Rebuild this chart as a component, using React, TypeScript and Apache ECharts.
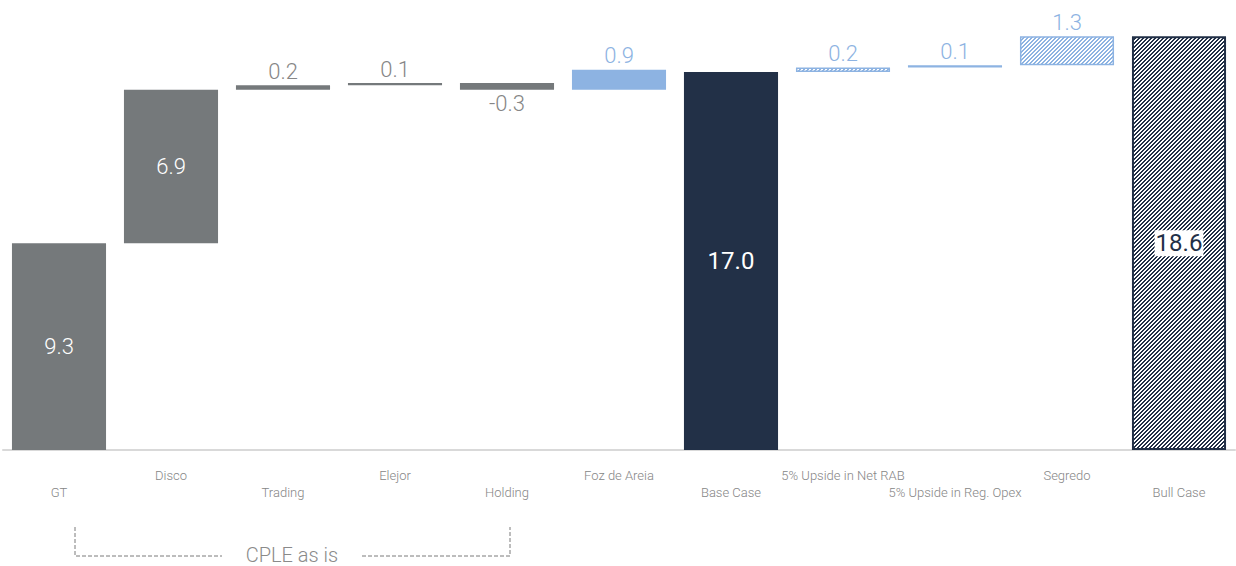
import React, { useEffect, useRef } from "react";
import * as echarts from "echarts";

// Waterfall: CPLE sum-of-the-parts bridge from components to Base Case and Bull Case
const categories = [
  "GT",
  "Disco",
  "Trading",
  "Elejor",
  "Holding",
  "Foz de Areia",
  "Base Case",
  "5% Upside in Net RAB",
  "5% Upside in Reg. Opex",
  "Segredo",
  "Bull Case",
];
const values = [9.3, 6.9, 0.2, 0.1, -0.3, 0.9, 17.0, 0.2, 0.1, 1.3, 18.6];
// "total" bars start at zero; "step" bars float on the running sum
const kinds = ["total", "step", "step", "step", "step", "step", "total", "step", "step", "step", "total"];
// fill style per bar
const styles = ["gray", "gray", "gray", "gray", "gray", "blue", "navy", "blueHatch", "blue", "blueHatch", "navyHatch"];

const GRAY = "#75797b";
const BLUE = "#8db3e2";
const NAVY = "#223047";
const LABEL_GRAY = "#868686";

// Pixel-crisp diagonal stripes ("/") as a repeating 4x4 tile
function stripePattern(fg: string, bg: string) {
  const size = 4;
  const c = document.createElement("canvas");
  c.width = size;
  c.height = size;
  const ctx = c.getContext("2d")!;
  ctx.fillStyle = bg;
  ctx.fillRect(0, 0, size, size);
  ctx.fillStyle = fg;
  for (let y = 0; y < size; y++) {
    for (let x = 0; x < size; x++) {
      if ((x + y) % size < 2) ctx.fillRect(x, y, 1, 1);
    }
  }
  return { image: c, repeat: "repeat", imageWidth: size, imageHeight: size };
}

export default function App() {
  const ref = useRef<HTMLDivElement>(null);

  useEffect(() => {
    if (!ref.current) return;
    const chart = echarts.init(ref.current, null, { renderer: "svg" });

    const bases: number[] = [];
    const heights: number[] = [];
    let running = 0;
    values.forEach((v, i) => {
      if (kinds[i] === "total") {
        bases.push(0);
        heights.push(v);
        running = v;
      } else if (v >= 0) {
        bases.push(running);
        heights.push(v);
        running += v;
      } else {
        bases.push(running + v);
        heights.push(-v);
        running += v;
      }
    });

    const barData = heights.map((h, i) => {
      const st = styles[i];
      const v = values[i];
      let itemStyle: any = { color: GRAY };
      let labelColor = LABEL_GRAY;
      if (st === "blue") {
        itemStyle = { color: BLUE };
        labelColor = BLUE;
      } else if (st === "navy") {
        itemStyle = { color: NAVY };
      } else if (st === "blueHatch") {
        itemStyle = {
          color: stripePattern(BLUE, "#ffffff"),
          borderColor: BLUE,
          borderWidth: 1.5,
        };
        labelColor = BLUE;
      } else if (st === "navyHatch") {
        itemStyle = {
          color: stripePattern(NAVY, "#ffffff"),
          borderColor: NAVY,
          borderWidth: 2,
        };
      }
      const text = v.toFixed(1);
      let label: any;
      if (kinds[i] === "total" || i === 1) {
        label = {
          show: true,
          position: "inside",
          formatter: text,
          color: "#ffffff",
          fontSize: i === 6 || i === 10 ? 24 : 22,
          fontFamily: "Roboto",
          fontWeight: st === "gray" ? 300 : 400,
        };
        if (st === "navyHatch") {
          label.color = NAVY;
          label.backgroundColor = "#ffffff";
          label.padding = [2, 1, 0, 1];
        }
      } else {
        label = {
          show: true,
          position: v < 0 ? "bottom" : "top",
          distance: 3,
          formatter: text,
          color: labelColor,
          fontSize: 22,
          fontFamily: "Roboto",
          fontWeight: 300,
        };
      }
      return { value: h, itemStyle, label };
    });

    chart.setOption({
      animation: false,
      grid: { left: 3, right: 1, top: 5.2, bottom: 116, containLabel: false },
      xAxis: {
        type: "category",
        data: categories,
        axisLine: { show: true, lineStyle: { color: "#d9d9d9", width: 2 } },
        axisTick: { show: false },
        axisLabel: {
          interval: 0,
          hideOverlap: false,
          margin: 17,
          fontSize: 13,
          lineHeight: 17,
          color: LABEL_GRAY,
          fontFamily: "Roboto",
          fontWeight: 300,
          formatter: (v: string, i: number) => (i % 2 === 0 ? "\n" + v : v),
        },
      },
      yAxis: {
        type: "value",
        min: 0,
        max: 20,
        show: false,
        splitLine: { show: false },
      },
      series: [
        {
          type: "bar",
          stack: "w",
          data: bases,
          itemStyle: { color: "transparent" },
          silent: true,
          barWidth: "84%",
        },
        {
          type: "bar",
          stack: "w",
          data: barData,
          barWidth: "84%",
        },
      ],
      graphic: [
        {
          type: "polyline",
          shape: { points: [[75, 527], [75, 556], [222, 556]] },
          style: { stroke: "#7a7a7a", lineWidth: 1, lineDash: [4, 2], fill: null },
        },
        {
          type: "polyline",
          shape: { points: [[362, 556], [510, 556], [510, 527]] },
          style: { stroke: "#7a7a7a", lineWidth: 1, lineDash: [4, 2], fill: null },
        },
        {
          type: "text",
          x: 292,
          y: 555,
          style: {
            text: "CPLE as is",
            fill: "#8a8a8a",
            fontSize: 20,
            fontFamily: "Roboto",
            fontWeight: 300,
            align: "center",
            verticalAlign: "middle",
          },
        },
      ],
    });

    return () => chart.dispose();
  }, []);

  return (
    <div
      ref={ref}
      style={{ position: "absolute", left: 0, top: 0, width: 1236, height: 566 }}
    />
  );
}
